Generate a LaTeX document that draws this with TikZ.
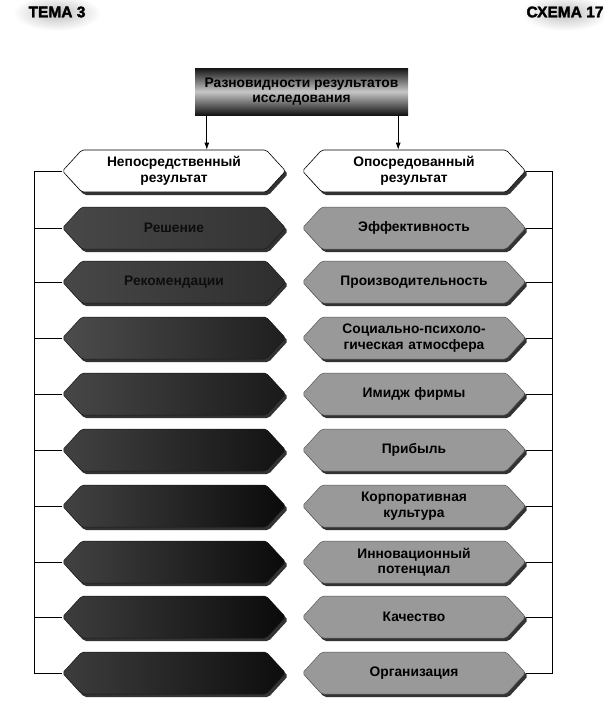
\documentclass[tikz,border=0pt]{standalone}
\usepackage{fontspec}
\setmainfont{Liberation Sans}
\usetikzlibrary{shapes.symbols,shadows,arrows.meta}
\begin{document}
\begin{tikzpicture}[x=1pt,y=-1pt,
  hexbase/.style={signal, signal to=west and east, signal pointer angle=95,
    minimum width=223pt, minimum height=42pt, inner sep=0pt, align=center,
    text width=180pt,
    font=\bfseries\fontsize{13.8}{15.5}\selectfont, rounded corners=2pt,
    drop shadow={shadow xshift=2.5pt, shadow yshift=-3pt, fill=black!80, opacity=1}},
  headhex/.style={hexbase, fill=white, draw=black, line width=0.6pt},
  grayhex/.style={hexbase, fill=black!40, draw=black!65, line width=0.5pt},
  darkhex/.style={hexbase, draw=black!90, line width=0.5pt, text=black!95},
  conn/.style={line width=0.9pt, black},
  arr/.style={conn, -{Latex[length=7pt,width=5pt]}},
  topic/.style={font=\bfseries\addfontfeature{FakeBold=2}\fontsize{15.5}{17}\selectfont, inner sep=0pt}
]
\useasboundingbox (0,0) rectangle (604,712);

% header labels
\shade[inner color=black!25, outer color=white] (57,13) ellipse [x radius=44pt, y radius=18pt];
\shade[inner color=black!25, outer color=white] (565,13) ellipse [x radius=44pt, y radius=18pt];
\node[topic] (tema) at (57,12) {ТЕМА 3};
\node[topic] (shema) at (565,12) {СХЕМА 17};

% top box
\node[minimum width=213pt, minimum height=47pt, inner sep=0pt, align=center,
  top color=black!92, bottom color=black!92, middle color=black!22,
  font=\bfseries\fontsize{13.8}{15}\selectfont] (top) at (301.5,91.5)
  {Разновидности результатов\\исследования};

% column headers
\node[headhex] (LH) at (174,171) {Непосредственный\\результат};
\node[headhex] (RH) at (414,171) {Опосредованный\\результат};

% left (dark) column
\node[darkhex, left color=black!72, right color=black!80] (L1) at (174,228) {Решение};
\node[darkhex, left color=black!72, right color=black!82] (L2) at (174,282) {Рекомендации};
\node[darkhex, left color=black!70, right color=black!88] (L3) at (174,338) {};
\node[darkhex, left color=black!72, right color=black!90] (L4) at (174,394) {};
\node[darkhex, left color=black!74, right color=black!93] (L5) at (174,450) {};
\node[darkhex, left color=black!74, right color=black!96] (L6) at (174,506) {};
\node[darkhex, left color=black!74, right color=black!96] (L7) at (174,562) {};
\node[darkhex, left color=black!76, right color=black!96] (L8) at (174,617) {};
\node[darkhex, left color=black!76, right color=black!95] (L9) at (174,673) {};

% right (gray) column
\node[grayhex] (R1) at (414,228) {Эффективность};
\node[grayhex] (R2) at (414,282) {Производительность};
\node[grayhex] (R3) at (414,338) {Социально-психоло-\\гическая атмосфера};
\node[grayhex] (R4) at (414,394) {Имидж фирмы};
\node[grayhex] (R5) at (414,450) {Прибыль};
\node[grayhex] (R6) at (414,506) {Корпоративная\\культура};
\node[grayhex] (R7) at (414,562) {Инновационный\\потенциал};
\node[grayhex] (R8) at (414,617) {Качество};
\node[grayhex] (R9) at (414,673) {Организация};

% rails
\coordinate (lx) at (34,0);
\coordinate (rx) at (552,0);

% arrows from top box
\draw[arr] ([xshift=12pt]top.south west) -- ([xshift=12pt]top.south west |- LH.north);
\draw[arr] ([xshift=-10pt]top.south east) -- ([xshift=-10pt]top.south east |- RH.north);

% left tree
\draw[conn] (LH.west) -- (LH.west -| lx) -- (L9.west -| lx) -- (L9.west);
\foreach \n in {L1,L2,L3,L4,L5,L6,L7,L8}
  \draw[conn] (\n.west) -- (\n.west -| lx);

% right tree
\draw[conn] (RH.east) -- (RH.east -| rx) -- (R9.east -| rx) -- (R9.east);
\foreach \n in {R1,R2,R3,R4,R5,R6,R7,R8}
  \draw[conn] (\n.east) -- (\n.east -| rx);
\end{tikzpicture}
\end{document}
